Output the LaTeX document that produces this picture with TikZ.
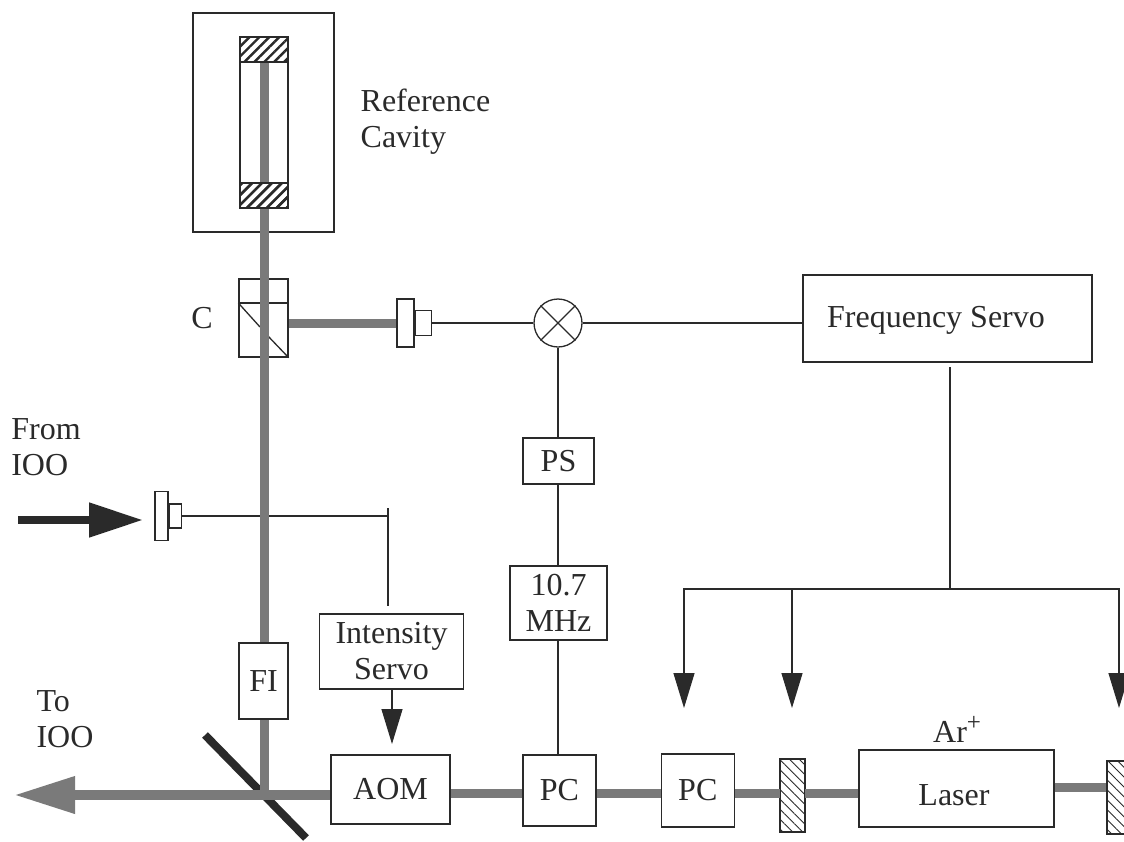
\documentclass[tikz,border=0pt]{standalone}
\usepackage{fontspec}
\setmainfont{Liberation Serif}
\usepackage{xcolor}
\usepackage{tikz}
\usetikzlibrary{arrows.meta,positioning,patterns.meta}

\definecolor{beamgray}{HTML}{7A7A7A}
\definecolor{inkdark}{HTML}{2A2A2A}

\begin{document}
\begin{tikzpicture}[x=1pt,y=-1pt,font=\fontsize{32}{36}\selectfont,text=inkdark]

\tikzstyle{box}=[draw=inkdark,line width=1.3pt,fill=white,rectangle,inner sep=0pt,align=center]
\tikzstyle{hatchup}=[box,pattern={Lines[angle=45,distance=7pt,line width=2.4pt]},pattern color=inkdark]
\tikzstyle{hatchdown}=[box,pattern={Lines[angle=-45,distance=7pt,line width=0.9pt]},pattern color=inkdark]
\tikzstyle{label}=[inner sep=0pt,align=left]
\tikzset{beam/.style={draw=beamgray,line width=9pt}}
\tikzset{wire/.style={draw=inkdark,line width=1.3pt}}
\tikzset{servoarrow/.style={wire,-{Triangle[length=35pt,width=21pt]}}}

\useasboundingbox (0,0) rectangle (1124,841);

% reference cavity
\node[box,minimum width=141pt,minimum height=219pt] (enclosure) at (263.5,122.5) {};
\node[box,minimum width=48pt,minimum height=171pt] (cavity) at (264,122.5) {};
\node[hatchup,minimum width=48pt,minimum height=25pt] (mirrtop) at (264,49.5) {};
\node[hatchup,minimum width=48pt,minimum height=25pt] (mirrbot) at (264,195.5) {};
\node[label] (refcav) at (425.5,122) {Reference\\Cavity};

% cube and its detector
\node[box,minimum width=49pt,minimum height=78pt] (cube) at (263.5,318) {};
\node[label] (clabel) at (202,318) {C};
\coordinate (cubeA) at (263.5,303);
\draw[wire] (cube.west |- cubeA) -- (cube.east |- cubeA);
\coordinate (diagA) at (260,327);
\coordinate (diagB) at (267,335);
\draw[wire] (cube.west |- cubeA) -- (diagA);
\draw[wire] (diagB) -- (cube.south east);

\node[box,minimum width=17pt,minimum height=48pt] (detB) at (405.5,323) {};
\node[box,minimum width=16pt,minimum height=25pt,right=0pt of detB] (detBs) {};
\node[box,minimum width=13pt,minimum height=49pt] (detA) at (161.5,516) {};
\node[box,minimum width=12pt,minimum height=24pt,right=0pt of detA] (detAs) {};

% electronics
\node[draw=inkdark,line width=1.3pt,circle,fill=white,minimum size=48pt,inner sep=0pt] (mixer) at (558,323) {};
\draw[wire] (mixer.45) -- (mixer.225);
\draw[wire] (mixer.135) -- (mixer.315);
\node[box,minimum width=289pt,minimum height=87pt] (freq) at (947.5,318.5) {};
\node[label] (freqtxt) at (936,320) {Frequency Servo};
\node[box,minimum width=71pt,minimum height=46pt] (ps) at (558.5,461) {PS};
\node[box,minimum width=97pt,minimum height=74pt] (rf) at (558.5,603) {10.7\\MHz};
\node[box,minimum width=144pt,minimum height=75pt] (intens) at (391.5,651.5) {Intensity\\Servo};

\coordinate (wireend) at (388,516);
\coordinate (wiretop) at (388,508);
\coordinate (wirebot) at (388,606);
\draw[wire] (detAs.east) -- (wireend);
\draw[wire] (wiretop) -- (wirebot);

% beams
\coordinate (split) at (264,795);
\coordinate (lineB) at (0,787);
\coordinate (lineA) at (0,793);
\coordinate (lineC) at (0,795);
\node[box,minimum width=195pt,minimum height=77pt] (laser) at (956.5,788.5) {};
\node[hatchdown,minimum width=25pt,minimum height=73pt] (hrA) at (792.5,795.5) {};
\node[hatchdown,minimum width=25pt,minimum height=73pt] (hrB) at (1119.5,797.5) {};
\node[box,minimum width=73pt,minimum height=71pt] (pcA) at (559.5,790.5) {PC};
\node[box,minimum width=73pt,minimum height=73pt,right=64pt of pcA.east,anchor=west] (pcB) {PC};
\node[box,minimum width=119pt,minimum height=69pt] (aom) at (390.5,789.5) {AOM};

\draw[beam] (laser.east |- lineB) -- (hrB.west |- lineB);
\draw[beam] (laser.west |- lineA) -- (hrA.east |- lineA);
\draw[beam] (hrA.west |- lineA) -- (pcB.east |- lineA);
\draw[beam] (pcB.west |- lineA) -- (pcA.east |- lineA);
\draw[beam] (pcA.west |- lineA) -- (aom.east |- lineA);
\draw[beam] (detB.west) -- (cube.east |- detB);
\draw[beam] (mirrtop.south) -- (mirrbot.north);
\draw[beam] (mirrbot.south) -- (split);

% redraw on top of beam
\node[hatchup,minimum width=48pt,minimum height=25pt] (mirrbotb) at (mirrbot) {};
\node[box,minimum width=49pt,minimum height=76pt] (fi) at (263.5,681) {FI};

% folding mirror
\coordinate (foldA) at (205,735);
\coordinate (foldB) at (306,838);
\draw[draw=inkdark,line width=8pt] (foldA) -- (foldB);

% input and output
\coordinate (inA) at (18,520);
\coordinate (inB) at (143,520);
\coordinate (outB) at (14,795);
\draw[draw=inkdark,line width=8pt,-{Triangle[length=54pt,width=33pt]}] (inA) -- (inB);
\draw[beam,line width=10pt,-{Triangle[length=61pt,width=35pt]}] (aom.west |- lineC) -- (outB);
\draw[beam] (split) -- ++(0,-10);

% signal lines
\draw[wire] (detBs.east) -- (mixer.west);
\draw[wire] (mixer.east) -- (freq.west |- mixer);
\draw[wire] (mixer.south) -- (ps.north -| mixer);
\draw[wire] (ps.south -| mixer) -- (rf.north -| mixer);
\draw[wire] (rf.south -| mixer) -- (pcA.north -| mixer);

\coordinate (fork) at (950,589);
\coordinate (forktop) at (950,367);
\coordinate (tipA) at (684,708);
\coordinate (tipB) at (792,708);
\coordinate (tipC) at (1119,708);
\draw[wire] (forktop) -- (fork);
\draw[servoarrow] (fork) -| (tipA);
\draw[servoarrow] (tipB |- fork) -- (tipB);
\draw[servoarrow] (fork) -| (tipC);
\coordinate (tipD) at (392,744);
\draw[servoarrow] (intens.south -| tipD) -- (tipD);

% labels
\node[label] (fromioo) at (46,447) {From\\IOO};
\node[label] (toioo) at (65,719) {To\\IOO};
\node[label,anchor=base west] (arplus) at (933,742) {Ar\raisebox{12pt}{\fontsize{25}{25}\selectfont +}};
\node[label] (laserl) at (954,795) {Laser};

\end{tikzpicture}
\end{document}
